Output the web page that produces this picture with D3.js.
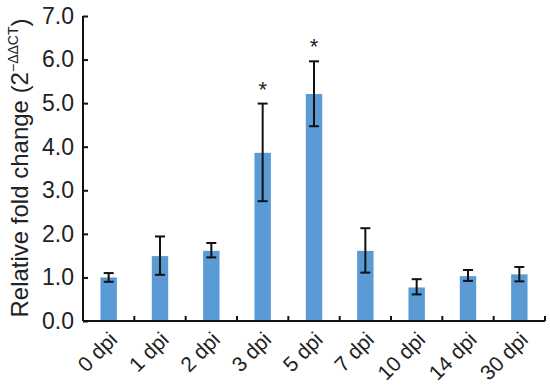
<!DOCTYPE html>
<html>
<head>
<meta charset="utf-8">
<script src="https://cdn.jsdelivr.net/npm/d3@7"></script>
<style>
  body { margin: 0; background: #fff; }
  text { font-family: "Liberation Sans", Arial, sans-serif; fill: #222; }
</style>
</head>
<body>
<div id="chart"></div>
<script>
// data
var categories = ["0 dpi", "1 dpi", "2 dpi", "3 dpi", "5 dpi", "7 dpi", "10 dpi", "14 dpi", "30 dpi"];
var means      = [1.00, 1.49, 1.61, 3.86, 5.21, 1.61, 0.77, 1.03, 1.07];
var errUpper   = [1.10, 1.94, 1.79, 4.99, 5.96, 2.13, 0.96, 1.17, 1.24];
var errLower   = [0.90, 1.06, 1.46, 2.75, 4.47, 1.11, 0.61, 0.92, 0.91];
var significant = ["3 dpi", "5 dpi"];
var yTicks = [0, 1, 2, 3, 4, 5, 6, 7];

var width = 550, height = 387;
var margin = {top: 16, right: 5, bottom: 66, left: 83};

var svg = d3.select("#chart").append("svg")
  .attr("width", width).attr("height", height);

var x = d3.scaleBand().domain(categories)
  .range([margin.left, width - margin.right])
  .paddingInner(0.68).paddingOuter(0.34);
var y = d3.scaleLinear().domain([0, 7]).range([height - margin.bottom, margin.top]);

var rows = categories.map(function(c, i) {
  return {cat: c, mean: means[i], hi: errUpper[i], lo: errLower[i]};
});

// bars
svg.append("g").selectAll("rect").data(rows).enter().append("rect")
  .attr("x", function(d) { return x(d.cat); })
  .attr("width", x.bandwidth())
  .attr("y", function(d) { return y(d.mean); })
  .attr("height", function(d) { return y(0) - y(d.mean); })
  .attr("fill", "#5b9bd5");

// error bars
var eb = svg.append("g").attr("stroke", "#111").attr("stroke-width", 2);
rows.forEach(function(d) {
  var cx = x(d.cat) + x.bandwidth() / 2;
  eb.append("line").attr("x1", cx).attr("x2", cx).attr("y1", y(d.hi)).attr("y2", y(d.lo));
  eb.append("line").attr("x1", cx - 5).attr("x2", cx + 5).attr("y1", y(d.hi)).attr("y2", y(d.hi));
  eb.append("line").attr("x1", cx - 5).attr("x2", cx + 5).attr("y1", y(d.lo)).attr("y2", y(d.lo));
});

// asterisks
svg.append("g").selectAll("text")
  .data(rows.filter(function(d) { return significant.indexOf(d.cat) >= 0; }))
  .enter().append("text")
  .attr("x", function(d) { return x(d.cat) + x.bandwidth() / 2; })
  .attr("y", function(d) { return y(d.hi) - 7; })
  .attr("text-anchor", "middle")
  .style("font-size", "22px")
  .text("*");

// y axis
var yAxis = svg.append("g")
  .attr("transform", "translate(" + margin.left + ",0)")
  .call(d3.axisLeft(y).tickValues(yTicks).tickSize(-5).tickPadding(9)
    .tickFormat(d3.format(".1f")));
yAxis.select(".domain").attr("stroke", "#111").attr("stroke-width", 2)
  .attr("d", "M0," + y(7) + "V" + y(0));
yAxis.selectAll(".tick line").attr("stroke", "#111").attr("stroke-width", 2);
yAxis.selectAll(".tick text").style("font-size", "23px").style("font-family", "Liberation Sans, Arial, sans-serif").attr("fill", "#222");

// x axis
var xAxis = svg.append("g")
  .attr("transform", "translate(0," + y(0) + ")")
  .call(d3.axisBottom(x).tickSize(0).tickPadding(0));
xAxis.select(".domain").attr("stroke", "#111").attr("stroke-width", 2)
  .attr("d", "M" + margin.left + ",0H" + (width - margin.right));
xAxis.selectAll(".tick text")
  .style("font-size", "21px").style("font-family", "Liberation Sans, Arial, sans-serif")
  .attr("fill", "#222")
  .attr("text-anchor", "end")
  .attr("dy", 0)
  .attr("transform", "translate(10,20) rotate(-45)");

// boundary ticks between categories
var step = x.step();
var bounds = d3.range(categories.length + 1).map(function(i) { return margin.left + i * step; }).slice(1);
xAxis.append("g").selectAll("line").data(bounds).enter().append("line")
  .attr("x1", function(d) { return d; }).attr("x2", function(d) { return d; })
  .attr("y1", 0).attr("y2", -5)
  .attr("stroke", "#111").attr("stroke-width", 2);

// y label
var yl = svg.append("text")
  .attr("transform", "translate(28,168) rotate(-90)")
  .attr("text-anchor", "middle")
  .style("font-size", "24px");
yl.append("tspan").text("Relative fold change (2");
yl.append("tspan").attr("dy", -10).style("font-size", "14px").text("\u2212\u0394\u0394CT");
yl.append("tspan").attr("dy", 10).text(")");
</script>
</body>
</html>
